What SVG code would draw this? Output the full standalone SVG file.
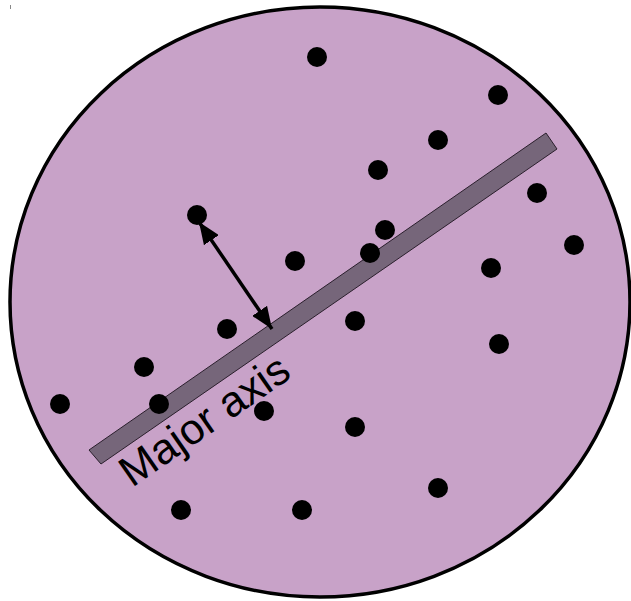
<svg xmlns="http://www.w3.org/2000/svg" width="631" height="601" viewBox="0 0 631 601">
<style>
.dot{fill:#000}
.lbl{font-family:"Liberation Sans",Arial,sans-serif;font-size:43px;fill:#000}
</style>
<defs>
<marker id="ah" viewBox="0 0 22 18" refX="22" refY="9" markerWidth="22" markerHeight="18" markerUnits="userSpaceOnUse" orient="auto-start-reverse">
<path d="M0,0 L22,9 L0,18 Z" fill="#000"/>
</marker>
</defs>
<rect width="631" height="601" fill="#fff"/>
<line x1="10.5" y1="5" x2="10.5" y2="9" stroke="#888" stroke-width="1"/>
<g id="region">
<ellipse cx="320" cy="302" rx="310" ry="295" fill="#c8a2c8" stroke="#000" stroke-width="3.5"/>
</g>
<g id="axis">
<polygon points="89,450 546,133 557,149 101,464" fill="#76667a" stroke="#2a1f2c" stroke-width="1"/>
<text class="lbl" transform="translate(132,488) rotate(-34.7)">Major axis</text>
</g>
<g id="points">
<circle class="dot" cx="317" cy="57" r="10"/>
<circle class="dot" cx="498" cy="95" r="10"/>
<circle class="dot" cx="438" cy="140" r="10"/>
<circle class="dot" cx="378" cy="170" r="10"/>
<circle class="dot" cx="537" cy="193" r="10"/>
<circle class="dot" cx="197" cy="215" r="10"/>
<circle class="dot" cx="385" cy="230" r="10"/>
<circle class="dot" cx="574" cy="245" r="10"/>
<circle class="dot" cx="295" cy="261" r="10"/>
<circle class="dot" cx="370" cy="253" r="10"/>
<circle class="dot" cx="491" cy="268" r="10"/>
<circle class="dot" cx="227" cy="329" r="10"/>
<circle class="dot" cx="355" cy="321" r="10"/>
<circle class="dot" cx="499" cy="344" r="10"/>
<circle class="dot" cx="144" cy="367" r="10"/>
<circle class="dot" cx="60" cy="404" r="10"/>
<circle class="dot" cx="159" cy="404" r="10"/>
<circle class="dot" cx="264" cy="411" r="10"/>
<circle class="dot" cx="355" cy="427" r="10"/>
<circle class="dot" cx="438" cy="488" r="10"/>
<circle class="dot" cx="181" cy="510" r="10"/>
<circle class="dot" cx="302" cy="510" r="10"/>
</g>
<g id="connectors">
<line x1="199" y1="222" x2="272" y2="329" stroke="#000" stroke-width="3.5" marker-start="url(#ah)" marker-end="url(#ah)"/>
</g>
</svg>
